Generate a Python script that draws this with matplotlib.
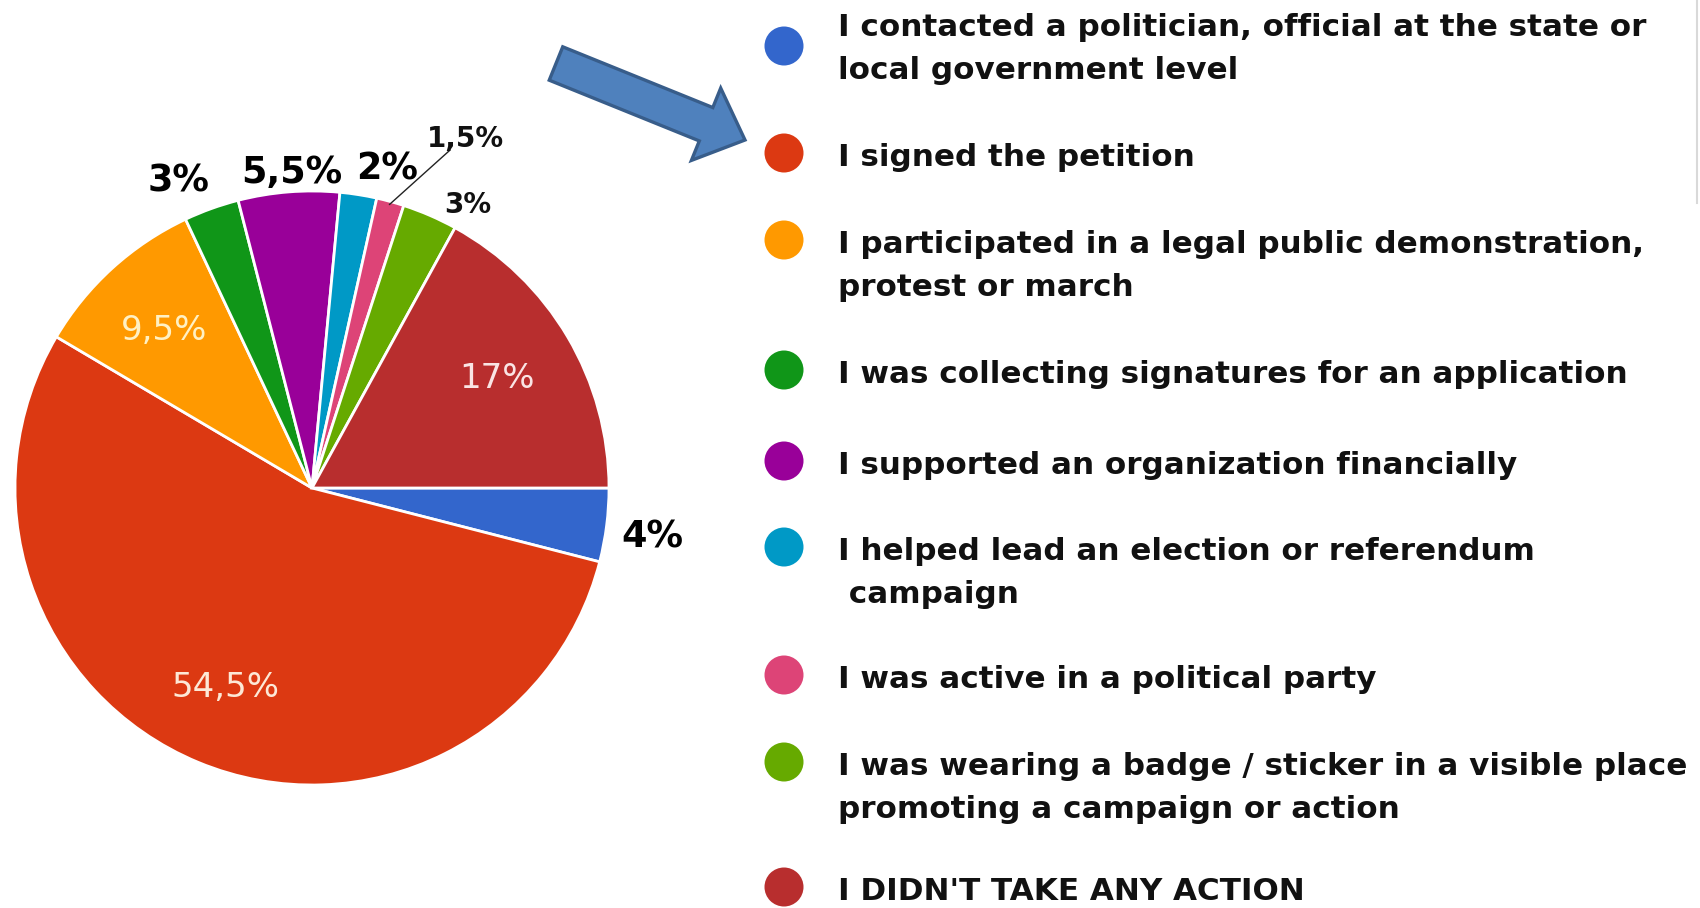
import matplotlib
matplotlib.use("Agg")
import matplotlib.pyplot as plt
import numpy as np
from matplotlib.patches import Circle, FancyArrow

# ---------------- data ----------------
categories = [
    "I contacted a politician, official at the state or\nlocal government level",
    "I signed the petition",
    "I participated in a legal public demonstration,\nprotest or march",
    "I was collecting signatures for an application",
    "I supported an organization financially",
    "I helped lead an election or referendum\n campaign",
    "I was active in a political party",
    "I was wearing a badge / sticker in a visible place\npromoting a campaign or action",
    "I DIDN'T TAKE ANY ACTION",
]
values = [4, 54.5, 9.5, 3, 5.5, 2, 1.5, 3, 17]
value_labels = ["4%", "54,5%", "9,5%", "3%", "5,5%", "2%", "1,5%", "3%", "17%"]
colors = ["#3366cc", "#dc3912", "#ff9900", "#109618", "#990099",
          "#0099c6", "#dd4477", "#66aa00", "#b82e2e"]

# ---------------- layout ----------------
W, H = 1700, 908
CX, CY, R = 312, 488, 297          # pie centre / radius in pixels
# label anchor positions (pie-radius units) and styles
label_pos = [(1.145, -0.165), (-0.293, -0.673), (-0.498, 0.529), (-0.451, 1.034),
             (-0.067, 1.061), (0.253, 1.074), (0.515, 1.175), (0.525, 0.953),
             (0.623, 0.370)]
label_style = ["out", "in", "in", "out", "out", "out", "small", "small", "in"]
inner_colors = {1: "#fde8d6", 2: "#fff1c4", 8: "#fae4e4"}

fig = plt.figure(figsize=(W / 100, H / 100), dpi=100)
fig.patch.set_facecolor("white")

ax = fig.add_axes([(CX - R) / W, (H - CY - R) / H, 2 * R / W, 2 * R / H])
wedges, _ = ax.pie(values, colors=colors, startangle=0, counterclock=False,
                   radius=1.0,
                   wedgeprops=dict(edgecolor="white", linewidth=2.0))
ax.set_xlim(-1, 1)
ax.set_ylim(-1, 1)
ax.set_aspect("equal")
ax.axis("off")

for i, (lab, (x, y), st) in enumerate(zip(value_labels, label_pos, label_style)):
    if st == "out":
        ax.text(x, y, lab, ha="center", va="center", fontsize=26.3,
                fontweight="bold", family=["DejaVu Sans"], color="black", clip_on=False)
    elif st == "small":
        ax.text(x, y, lab, ha="center", va="center", fontsize=20,
                fontweight="bold", family=["DejaVu Sans"], color="#111111", clip_on=False)
    else:
        ax.text(x, y, lab, ha="center", va="center", fontsize=24.5,
                family=["DejaVu Sans"], color=inner_colors.get(i, "white"), clip_on=False)

# leader line for the small pink slice
w = wedges[6]
mid = np.deg2rad((w.theta1 + w.theta2) / 2)
ax.plot([0.99 * np.cos(mid), 0.465], [0.99 * np.sin(mid), 1.138],
        color="#222222", lw=1.0, clip_on=False)

# overlay axes in pixel coordinates
ov = fig.add_axes([0, 0, 1, 1])
ov.set_xlim(0, W)
ov.set_ylim(H, 0)
ov.axis("off")

legend_cy = [46, 153, 240, 370, 461, 547, 675, 762, 887]
centered = [True] + [False] * 8
LINE = 43
FS = 22.3
CAP = 0.729 * FS * 100 / 72
for cat, col, cy, cen in zip(categories, colors, legend_cy, centered):
    ov.add_patch(Circle((784, cy), 19.5, facecolor=col, edgecolor="none"))
    lines = cat.split("\n")
    n = len(lines)
    start = cy - (n - 1) * LINE / 2 if cen else cy + 2
    for k, ln in enumerate(lines):
        ov.text(838, start + k * LINE + CAP / 2, ln, ha="left", va="baseline",
                fontsize=FS, fontweight="bold",
                family=["DejaVu Sans"], color="#111111")

# blue arrow
tail = np.array([556, 63.5])
tip = np.array([745, 140])
d = tip - tail
ov.add_patch(FancyArrow(tail[0], tail[1], d[0], d[1], width=36, head_width=78,
                        head_length=42, length_includes_head=True,
                        facecolor="#4f81bd", edgecolor="#385d8a", linewidth=2.4))

# faint border line at top right
ov.plot([1697, 1697], [0, 203], color="#d9d9d9", lw=1.5)

fig.savefig("out.png", dpi=100, facecolor="white")
